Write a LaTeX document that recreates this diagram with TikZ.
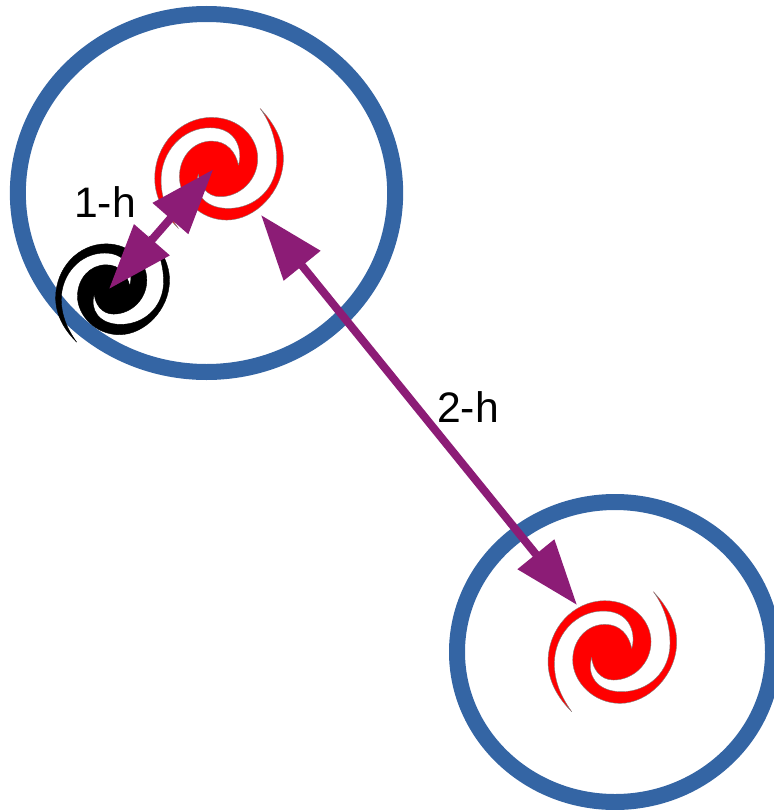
\documentclass[tikz,border=0pt]{standalone}
\usepackage{fontspec}
\setmainfont{Liberation Sans}
\usetikzlibrary{arrows.meta,shapes.geometric}
\definecolor{ringblue}{HTML}{3465A4}
\definecolor{linkpurple}{HTML}{8C1C76}
\tikzset{
  ring/.style={ellipse,draw=ringblue,line width=12pt,inner sep=0pt,outer sep=0pt,fill=none},
  link/.style={draw=linkpurple,line width=6pt,{Triangle[length=49pt,width=34pt]}-{Triangle[length=49pt,width=34pt]}},
  lbl/.style={font=\fontsize{32pt}{36pt}\selectfont,text=black,inner sep=0pt},
  pics/galaxy/.style 2 args={code={
    \path[fill=#1,draw=#2,line width=.3pt,line join=round]
      (125,-180) .. controls (172,-130) and (195,-80) .. (195,-30)
      .. controls (195,70) and (110,155) .. (25,155)
      .. controls (-55,155) and (-117,90) .. (-117,25)
      .. controls (-117,-35) and (-75,-82) .. (-20,-82)
      .. controls (25,-82) and (52,-50) .. (60,-10)
      .. controls (72,-45) and (62,-122) .. (-25,-122)
      .. controls (-108,-122) and (-172,-50) .. (-172,35)
      .. controls (-172,90) and (-152,135) .. (-120,180)
      .. controls (-165,135) and (-191,85) .. (-191,30)
      .. controls (-191,-70) and (-115,-153) .. (-20,-153)
      .. controls (60,-153) and (118,-95) .. (118,-30)
      .. controls (118,35) and (65,85) .. (5,85)
      .. controls (-35,85) and (-58,50) .. (-60,17)
      .. controls (-76,70) and (-45,120) .. (30,120)
      .. controls (110,120) and (175,60) .. (175,-25)
      .. controls (175,-85) and (155,-140) .. (125,-180)
      -- cycle;
  }}
}
\begin{document}
\begin{tikzpicture}[x=0.75pt,y=-0.75pt]
\useasboundingbox (0,0) rectangle (774,810);
\node[ring,minimum width=283pt,minimum height=268.5pt] (ringA) at (206.5,193) {};
\node[ring,minimum width=237pt,minimum height=225pt] (ringB) at (615,652) {};
\pic[scale=0.3333] (redA) at (218.4,168.4) {galaxy={red}{gray}};
\pic[scale=0.3333] (redB) at (611.7,651.7) {galaxy={red}{gray}};
\pic[scale=0.295] (blackA) at (112,289) {galaxy={black}{black}};
\coordinate (a1) at (213.3,169.3);
\coordinate (a2) at (109,289);
\coordinate (b1) at (261,215);
\coordinate (b2) at (577,605);
\draw[link] (a1) -- (a2);
\draw[link] (b1) -- (b2);
\node[lbl] (hA) at (105,202) {1-h};
\node[lbl] (hB) at (468,407) {2-h};
\end{tikzpicture}
\end{document}
